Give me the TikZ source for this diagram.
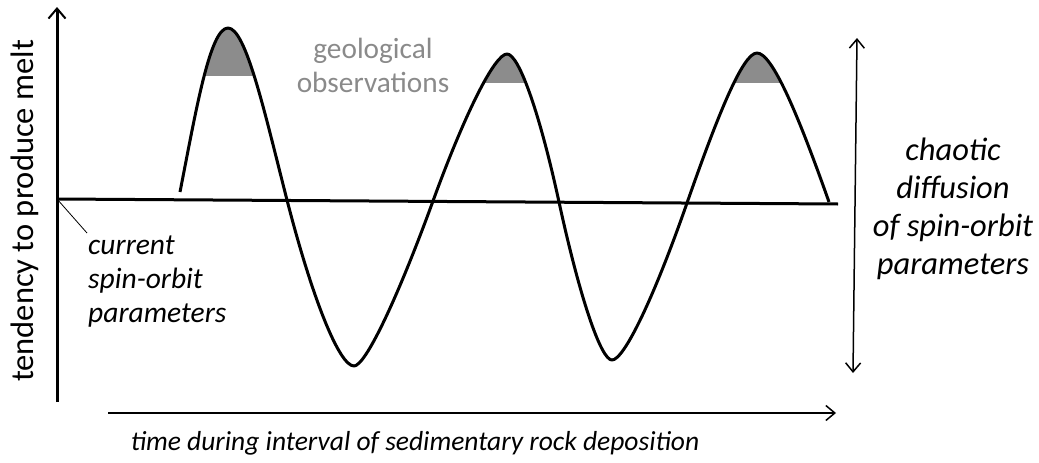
\documentclass[tikz,border=0pt]{standalone}
\usepackage{fontspec}
\setmainfont{Carlito}
\usetikzlibrary{arrows.meta}
\definecolor{capgray}{RGB}{140,140,140}
\definecolor{obsgray}{RGB}{138,138,138}
\tikzset{
  axisline/.style={line width=3pt},
  wave/.style={line width=3pt, line join=round},
  capfill/.style={fill=capgray},
  barb/.style={-{Straight Barb[length=10pt,width=17pt,line width=2pt]}},
  thinarrow/.style={line width=1.5pt, -{Straight Barb[length=9pt,width=15pt,line width=1.5pt]}},
  dblarrow/.style={line width=1.5pt, {Straight Barb[length=9pt,width=15pt,line width=1.5pt]}-{Straight Barb[length=9pt,width=15pt,line width=1.5pt]}},
  pointer/.style={line width=0.8pt},
  lbl/.style={inner sep=0pt, align=center},
}
\begin{document}
\begin{tikzpicture}[x=1pt,y=-1pt]
\useasboundingbox (0,0) rectangle (1039,463);
% key points
\coordinate (ybot) at (57,402);
\coordinate (ytop) at (57,7);
\coordinate (o) at (57,199);
\coordinate (bend) at (838,204);
\coordinate (xa) at (108,413);
\coordinate (xb) at (836,413);
\coordinate (da) at (853,373);
\coordinate (db) at (857,38);
\coordinate (ptr) at (87,233);
\coordinate (A) at (180,192);
\coordinate (P1) at (228,28);
\coordinate (C1) at (287,200);
\coordinate (Q1) at (354,366);
\coordinate (C2) at (433,201);
\coordinate (P2) at (507,54);
\coordinate (C3) at (559,202);
\coordinate (Q2) at (612,360);
\coordinate (C4) at (687,203);
\coordinate (P3) at (757,53);
\coordinate (E) at (829,202);
% shaded caps
\begin{scope}
  \clip (150,0) rectangle (300,75);
  \fill[capfill] (A) .. controls (196.1,110) and (210,28) .. (P1)
    .. controls (246,28) and (265,114) .. (C1) -- cycle;
\end{scope}
\begin{scope}
  \clip (420,0) rectangle (570,82);
  \fill[capfill] (C2) .. controls (465.2,112.8) and (494.8,54) .. (P2)
    .. controls (518.9,54) and (539.7,113.2) .. (C3) -- cycle;
\end{scope}
\begin{scope}
  \clip (680,0) rectangle (840,82);
  \fill[capfill] (C4) .. controls (718.5,113) and (743,53) .. (P3)
    .. controls (772,53) and (797.4,112.6) .. (E) -- cycle;
\end{scope}
% axes
\draw[axisline] (o) -- (bend);
\draw[axisline, barb] (ybot) -- (ytop);
\draw[thinarrow] (xa) -- (xb);
\draw[dblarrow] (da) -- (db);
% wave
\draw[wave] (A) .. controls (196.1,110) and (210,28) .. (P1)
  .. controls (246,28) and (265,114) .. (C1)
  .. controls (312.6,299.6) and (339.4,366) .. (Q1)
  .. controls (365.3,366) and (396.9,300) .. (C2)
  .. controls (465.2,112.8) and (494.8,54) .. (P2)
  .. controls (518.9,54) and (539.7,113.2) .. (C3)
  .. controls (579.6,296.8) and (600.8,360) .. (Q2)
  .. controls (624.1,360) and (654.1,297.2) .. (C4)
  .. controls (718.5,113) and (743,53) .. (P3)
  .. controls (772,53) and (797.4,112.6) .. (E);
% labels
\node[lbl, rotate=90, font=\fontsize{32.5}{38}\selectfont] (ylabel) at (25,211) {tendency to produce melt};
\node[lbl, anchor=base, font=\fontsize{27.5}{32}\selectfont\itshape] (xlabel) at (415,450) {time during interval of sedimentary rock deposition};
\node[lbl, align=left, anchor=west, font=\fontsize{29.5}{34}\selectfont\itshape] (cur) at (88,282) {current\\spin-orbit\\parameters};
\draw[pointer] (o) -- (ptr);
\node[lbl, text=obsgray, font=\fontsize{29.3}{34}\selectfont] (geo) at (373,65) {geological\\observations};
\node[lbl, font=\fontsize{32.5}{38}\selectfont\itshape] (chaos) at (953,209) {chaotic\\diffusion\\of spin-orbit\\parameters};
\end{tikzpicture}
\end{document}
